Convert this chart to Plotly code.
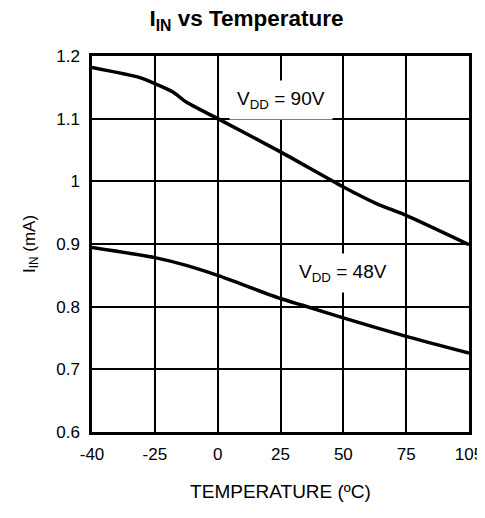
import numpy as np
import plotly.graph_objects as go

# Tick labels (equally spaced on the original chart)
tick_temps = [-40, -25, 0, 25, 50, 75, 105]

# V_DD = 90V curve
t_90 = [-40, -28.6, -25, -17.8, -12.5, 0, 25, 50, 63.2, 75, 105]
i_90 = [1.1815, 1.1655, 1.156, 1.1426, 1.1266, 1.10, 1.047, 0.991, 0.9645, 0.9458, 0.899]

# V_DD = 48V curve
t_48 = [-40, -25, -12.5, 0, 25, 33.8, 50, 75, 105]
i_48 = [0.8943, 0.8783, 0.866, 0.85, 0.813, 0.8022, 0.782, 0.7527, 0.726]

y_ticks = [0.6, 0.7, 0.8, 0.9, 1.0, 1.1, 1.2]
y_ticktext = ["0.6", "0.7", "0.8", "0.9", "1", "1.1", "1.2"]

idx = list(range(len(tick_temps)))
def pos(t):
    return np.interp(t, tick_temps, idx)

FONT = "Liberation Sans, Arial, sans-serif"

fig = go.Figure()
fig.add_trace(go.Scatter(x=pos(t_90), y=i_90, mode="lines",
                         line=dict(color="black", width=3.5, shape="spline", smoothing=0.6),
                         showlegend=False, hoverinfo="skip"))
fig.add_trace(go.Scatter(x=pos(t_48), y=i_48, mode="lines",
                         line=dict(color="black", width=3.5, shape="spline", smoothing=0.6),
                         showlegend=False, hoverinfo="skip"))

fig.add_annotation(x=pos(25), y=1.129, text="V<sub>DD</sub> = 90V", showarrow=False,
                   font=dict(family=FONT, size=19, color="black"),
                   bgcolor="white", borderpad=7)
fig.add_annotation(x=pos(50), y=0.853, text="V<sub>DD</sub> = 48V", showarrow=False,
                   font=dict(family=FONT, size=19, color="black"),
                   bgcolor="white", borderpad=7)

fig.update_layout(
    width=477, height=494,
    margin=dict(l=84, r=16, t=48, b=70),
    paper_bgcolor="white", plot_bgcolor="white",
    font=dict(family=FONT, color="black", size=17),
    title=dict(text="<b>I<sub>IN</sub> vs Temperature</b>", x=0.5, xanchor="center",
               y=0.9795, yanchor="middle", font=dict(family=FONT, size=22.5, color="black")),
)
fig.update_xaxes(range=[0, len(tick_temps) - 1], tickmode="array", tickvals=idx,
                 ticktext=[str(t) for t in tick_temps],
                 showgrid=True, gridcolor="black", gridwidth=1.5,
                 showline=True, linecolor="black", linewidth=2.5, mirror=True,
                 zeroline=False, ticks="", ticklabelstandoff=5, automargin=False,
                 ticklabeloverflow="allow",
                 tickfont=dict(family=FONT, size=17),
                 title=dict(text="TEMPERATURE (ºC)", font=dict(family=FONT, size=19), standoff=22))
fig.update_yaxes(range=[0.6, 1.2], tickmode="array", tickvals=y_ticks, ticktext=y_ticktext,
                 showgrid=True, gridcolor="black", gridwidth=1.5,
                 showline=True, linecolor="black", linewidth=2.5, mirror=True,
                 zeroline=False, ticks="", ticklabelstandoff=6, automargin=False,
                 tickfont=dict(family=FONT, size=17),
                 title=dict(text="I<sub>IN</sub> (mA)", font=dict(family=FONT, size=17), standoff=17))

fig.write_html("out.html")
